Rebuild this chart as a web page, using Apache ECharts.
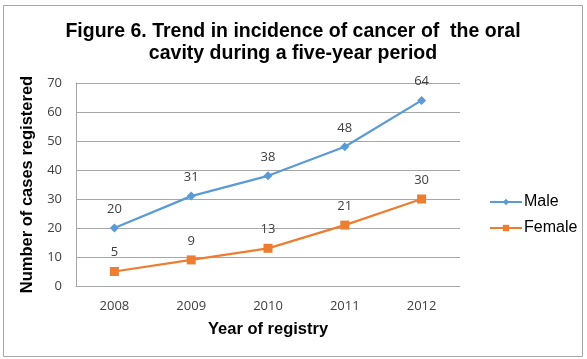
<!DOCTYPE html>
<html>
<head>
<meta charset="utf-8">
<script src="https://cdn.jsdelivr.net/npm/echarts@6/dist/echarts.min.js"></script>
<style>
  html, body { margin: 0; padding: 0; background: #fff; }
  #chart { width: 587px; height: 359px; }
</style>
</head>
<body>
<div id="chart"></div>
<script>
// Registered cases of oral cavity cancer, 2008–2012
const years = ['2008', '2009', '2010', '2011', '2012'];
const male = [20, 31, 38, 48, 64];
const female = [5, 9, 13, 21, 30];
const seriesNames = ['Male', 'Female'];

const chart = echarts.init(document.getElementById('chart'), null, { renderer: 'canvas' });

const labelStyle = {
  show: true,
  position: 'top',
  distance: 8,
  color: '#404040',
  fontSize: 13,
  fontFamily: 'Open Sans, Liberation Sans, sans-serif'
};

chart.setOption({
  animation: false,
  backgroundColor: '#fff',
  graphic: [{
    type: 'rect',
    shape: { x: 3.5, y: 5.5, width: 579, height: 351 },
    style: { fill: 'none', stroke: '#a6a6a6', lineWidth: 1 },
    silent: true
  }],
  title: {
    text: 'Figure 6. Trend in incidence of cancer of  the oral\ncavity during a five-year period',
    left: 288,
    top: 16,
    textAlign: 'center',
    textStyle: {
      fontFamily: 'Liberation Sans, Arial, sans-serif',
      fontWeight: 'bold',
      fontSize: 19.5,
      lineHeight: 22,
      color: '#000'
    }
  },
  legend: {
    data: seriesNames,
    orient: 'vertical',
    left: 484,
    top: 189,
    itemWidth: 32,
    itemHeight: 8,
    itemGap: 10,
    textStyle: {
      fontFamily: 'Liberation Sans, Arial, sans-serif',
      fontSize: 16,
      color: '#000',
      padding: [0, 0, 0, -3]
    }
  },
  grid: { left: 76, right: 127, top: 83, bottom: 73 },
  xAxis: {
    type: 'category',
    data: years,
    boundaryGap: true,
    name: 'Year of registry',
    nameLocation: 'middle',
    nameGap: 35,
    nameTextStyle: {
      fontFamily: 'Liberation Sans, Arial, sans-serif',
      fontWeight: 'bold',
      fontSize: 16.5,
      color: '#000'
    },
    axisLine: { lineStyle: { color: '#a6a6a6', width: 1 } },
    axisTick: { show: false },
    axisLabel: {
      margin: 14,
      color: '#404040',
      fontSize: 13,
      fontFamily: 'Open Sans, Liberation Sans, sans-serif'
    }
  },
  yAxis: {
    type: 'value',
    min: 0,
    max: 70,
    interval: 10,
    name: 'Number of cases registered',
    nameLocation: 'middle',
    nameGap: 40,
    nameTextStyle: {
      fontFamily: 'Liberation Sans, Arial, sans-serif',
      fontWeight: 'bold',
      fontSize: 16.5,
      color: '#000'
    },
    axisLine: { show: true, lineStyle: { color: '#a6a6a6', width: 1 } },
    axisTick: { show: false },
    splitLine: { lineStyle: { color: '#a6a6a6', width: 1 } },
    axisLabel: {
      margin: 14,
      color: '#404040',
      fontSize: 13,
      fontFamily: 'Open Sans, Liberation Sans, sans-serif'
    }
  },
  series: [
    {
      name: seriesNames[0],
      type: 'line',
      data: male,
      color: '#5b9bd5',
      symbol: 'diamond',
      symbolSize: 9,
      lineStyle: { width: 2.25 },
      label: labelStyle
    },
    {
      name: seriesNames[1],
      type: 'line',
      data: female,
      color: '#ed7d31',
      symbol: 'rect',
      symbolSize: 9,
      lineStyle: { width: 2.25 },
      label: labelStyle
    }
  ]
});
</script>
</body>
</html>
